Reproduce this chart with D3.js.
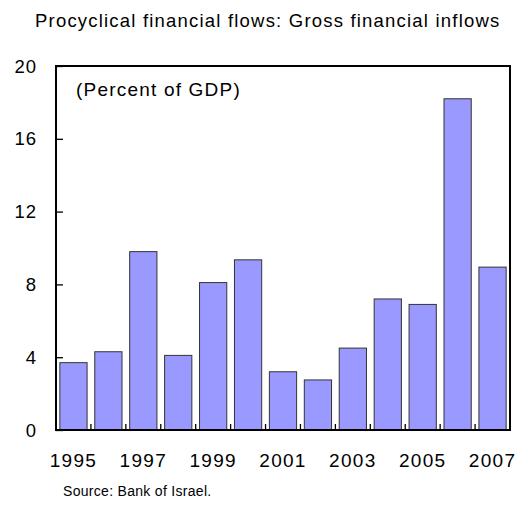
<!DOCTYPE html>
<html>
<head>
<meta charset="utf-8">
<script src="https://cdn.jsdelivr.net/npm/d3@7"></script>
<style>
  html, body { margin: 0; padding: 0; background: #fff; }
  svg { display: block; }
  text { font-family: "Liberation Sans", Arial, sans-serif; fill: #000; }
</style>
</head>
<body>
<script>
// Gross financial inflows, percent of GDP
const years = [1995, 1996, 1997, 1998, 1999, 2000, 2001, 2002, 2003, 2004, 2005, 2006, 2007];
const inflows = [3.7, 4.3, 9.8, 4.1, 8.1, 9.35, 3.2, 2.75, 4.5, 7.2, 6.9, 18.2, 8.95];
const yTicks = [0, 4, 8, 12, 16, 20];
const xLabelYears = [1995, 1997, 1999, 2001, 2003, 2005, 2007];

const W = 528, H = 510;
const m = { left: 56, right: 18, top: 66, bottom: 80 };

const svg = d3.select("body").append("svg")
  .attr("width", W).attr("height", H);

const x = d3.scaleBand()
  .domain(years)
  .range([m.left, W - m.right])
  .paddingInner(0.22)
  .paddingOuter(0.11);

const y = d3.scaleLinear()
  .domain([0, 20])
  .range([H - m.bottom, m.top]);

// Title
svg.append("text")
  .attr("x", 35).attr("y", 27)
  .style("font-size", "18.5px")
  .style("letter-spacing", "1.2px")
  .text("Procyclical financial flows: Gross financial inflows");

// Bars
svg.append("g").selectAll("rect")
  .data(years.map((yr, i) => ({ yr, v: inflows[i] })))
  .join("rect")
  .attr("x", d => x(d.yr))
  .attr("width", x.bandwidth())
  .attr("y", d => y(d.v))
  .attr("height", d => y(0) - y(d.v))
  .attr("fill", "#9999ff")
  .attr("stroke", "#333")
  .attr("stroke-width", 1);

// Tick marks between bars along the base
const step = x.step();
const bounds = years.slice(1).map(yr => x(yr) - (step - x.bandwidth()) / 2);
svg.append("g").selectAll("line")
  .data(bounds)
  .join("line")
  .attr("x1", d => d).attr("x2", d => d)
  .attr("y1", y(0)).attr("y2", y(0) - 6)
  .attr("stroke", "#000").attr("stroke-width", 1.3);

// Left axis with ticks pointing into the plot
const yAxis = svg.append("g")
  .attr("transform", `translate(${m.left},0)`)
  .call(d3.axisRight(y).tickValues(yTicks).tickSize(7).tickFormat(""));
yAxis.select(".domain").remove();
yAxis.selectAll(".tick line").attr("stroke", "#000").attr("stroke-width", 1.3);

// Y tick labels
svg.append("g").selectAll("text")
  .data(yTicks)
  .join("text")
  .attr("x", 37).attr("y", d => y(d))
  .attr("dy", "0.36em")
  .attr("text-anchor", "end")
  .style("font-size", "18.5px")
  .style("letter-spacing", "1px")
  .text(d => d);

// X labels
const xAxis = svg.append("g")
  .attr("transform", `translate(0,${y(0)})`)
  .call(d3.axisBottom(x).tickValues(xLabelYears).tickSize(0).tickPadding(24));
xAxis.select(".domain").remove();
xAxis.selectAll("text")
  .style("font-family", "Liberation Sans, Arial, sans-serif")
  .style("font-size", "19px")
  .style("letter-spacing", "1.3px")
  .attr("fill", "#000");

// Plot frame
svg.append("rect")
  .attr("x", m.left).attr("y", m.top)
  .attr("width", W - m.right - m.left)
  .attr("height", y(0) - m.top)
  .attr("fill", "none")
  .attr("stroke", "#000")
  .attr("stroke-width", 2);

// Unit note
svg.append("text")
  .attr("x", 76).attr("y", 96)
  .style("font-size", "19px")
  .style("letter-spacing", "1.2px")
  .text("(Percent of GDP)");

// Source
svg.append("text")
  .attr("x", 63).attr("y", 496)
  .style("font-size", "14px")
  .style("letter-spacing", "0.3px")
  .text("Source: Bank of Israel.");
</script>
</body>
</html>
